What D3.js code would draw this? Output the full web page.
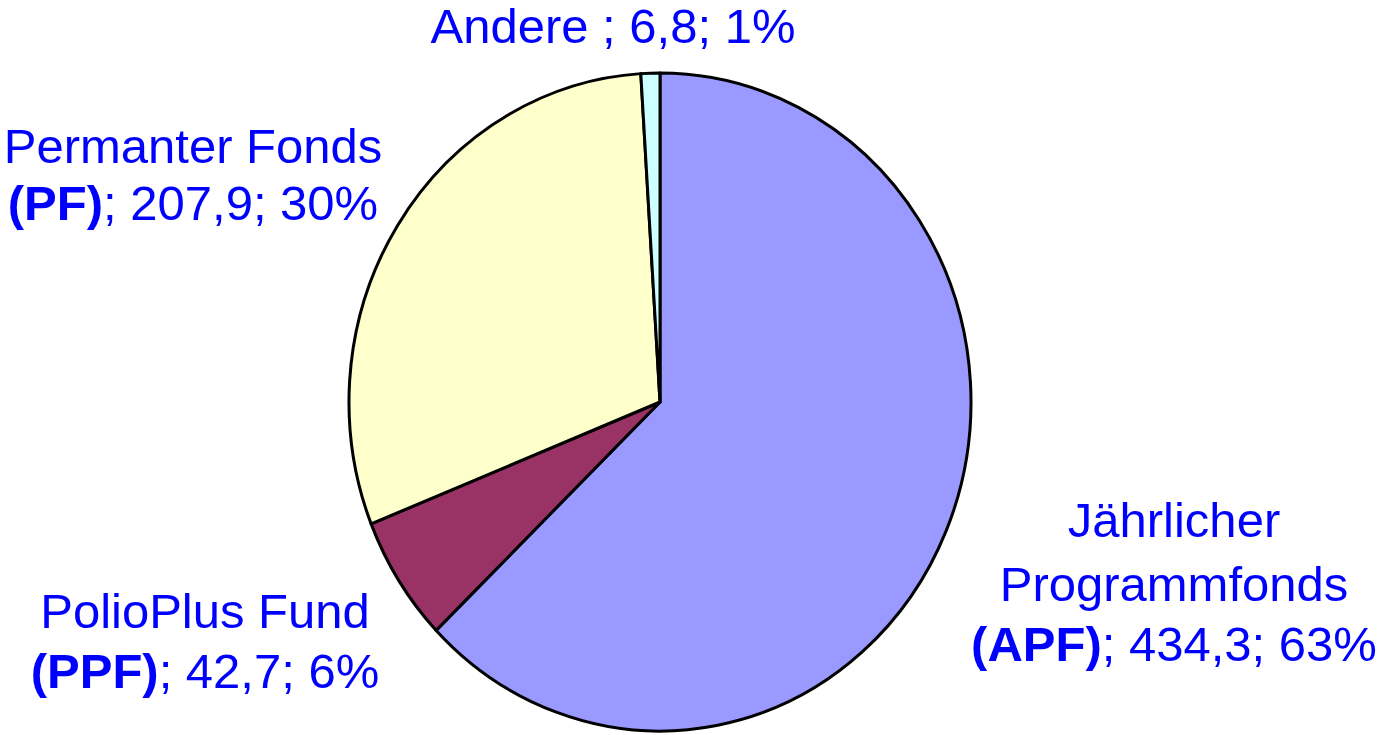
<!DOCTYPE html>
<html>
<head>
<meta charset="utf-8">
<script src="https://cdn.jsdelivr.net/npm/d3@7"></script>
<style>
  html, body { margin: 0; padding: 0; background: #fff; }
  svg { display: block; }
  text { font-family: "Liberation Sans", Arial, sans-serif; fill: #0000FF; }
</style>
</head>
<body>
<svg id="chart" width="1381" height="735"></svg>
<script>
// Data
const categories = ["Jährlicher Programmfonds (APF)", "PolioPlus Fund (PPF)", "Permanter Fonds (PF)", "Andere"];
const values = [434.3, 42.7, 207.9, 6.8];
const percents = ["63%", "6%", "30%", "1%"];
const colors = ["#9999FF", "#993366", "#FFFFCC", "#CCFFFF"];
// label text lines: [normal lines], bold prefix, rest of last line
const labelTitles = [["Jährlicher", "Programmfonds"], ["PolioPlus Fund"], ["Permanter Fonds"], []];
const labelBold = ["(APF)", "(PPF)", "(PF)", ""];
const labelRest = ["; 434,3; 63%", "; 42,7; 6%", "; 207,9; 30%", "Andere ; 6,8; 1%"];

const svg = d3.select("#chart");
const cx = 660, cy = 402, rx = 311, ry = 329;

const pie = d3.pie().sort(null).value(d => d.value);
const arc = d3.arc().innerRadius(0).outerRadius(rx);
const data = categories.map((c, i) => ({ name: c, value: values[i], color: colors[i] }));

const g = svg.append("g").attr("transform", `translate(${cx},${cy}) scale(1,${ry / rx})`);
g.selectAll("path")
  .data(pie(data))
  .join("path")
  .attr("d", arc)
  .attr("fill", d => d.data.color)
  .attr("stroke", "#000")
  .attr("stroke-width", 3)
  .attr("stroke-linejoin", "round")
  .attr("vector-effect", "non-scaling-stroke");

// label layout (center x, first baseline, line gaps)
const labelLayout = [
  { x: 1174, y: 537, gap: [64, 60] },
  { x: 205, y: 628, gap: [60] },
  { x: 193, y: 163, gap: [57] },
  { x: 613, y: 43, gap: [] }
];

labelLayout.forEach((L, i) => {
  const t = svg.append("g");
  let y = L.y;
  labelTitles[i].forEach((line, k) => {
    t.append("text").attr("x", L.x).attr("y", y).attr("text-anchor", "middle")
      .attr("font-size", 49).text(line);
    y += L.gap[k];
  });
  const last = t.append("text").attr("x", L.x).attr("y", y).attr("text-anchor", "middle")
    .attr("font-size", 49);
  if (labelBold[i]) last.append("tspan").attr("font-weight", "bold").text(labelBold[i]);
  last.append("tspan").text(labelRest[i]);
});
</script>
</body>
</html>
